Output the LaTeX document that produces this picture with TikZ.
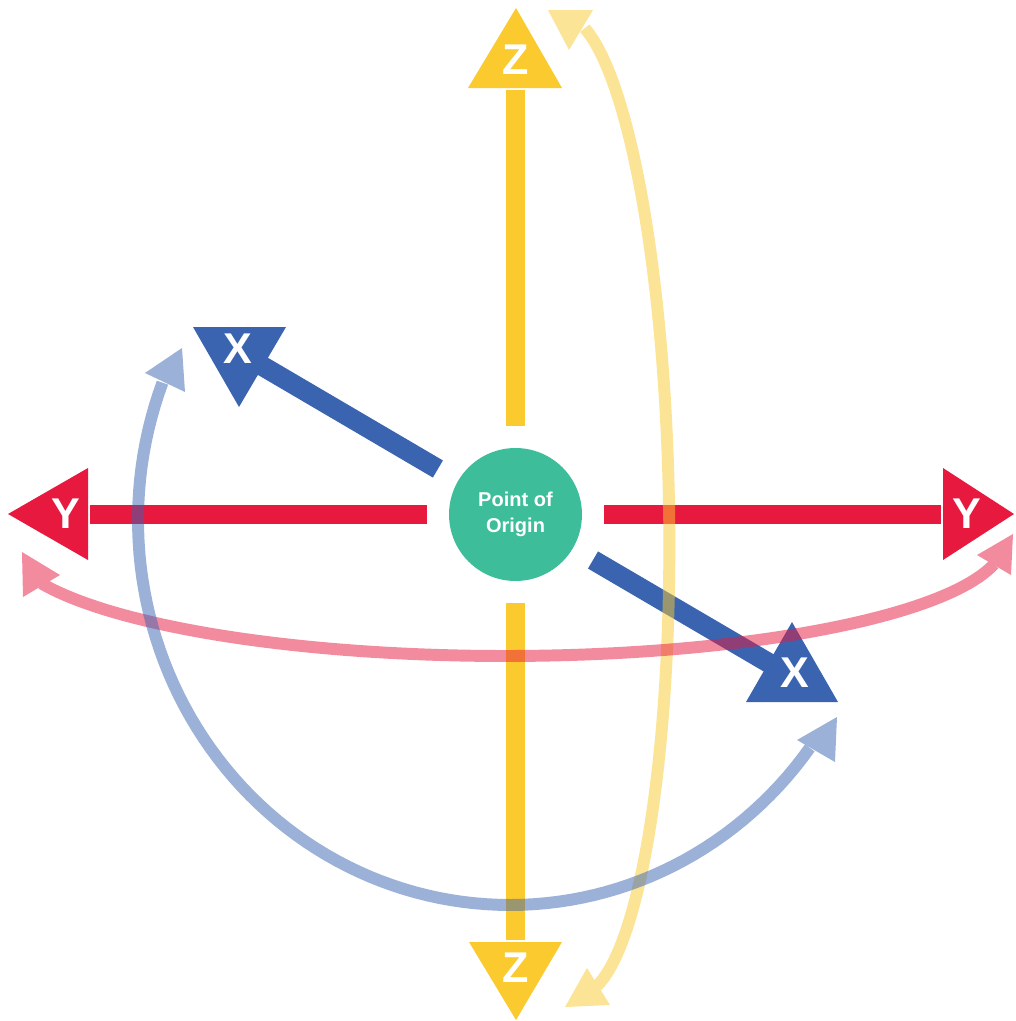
\documentclass[tikz,border=0pt]{standalone}
\usepackage{fontspec}
\setmainfont{Liberation Sans}
\definecolor{zyel}{HTML}{FBCA2F}
\definecolor{yred}{HTML}{E8193F}
\definecolor{xblue}{HTML}{3A64B0}
\definecolor{ogreen}{HTML}{3DBD99}
\begin{document}
\begin{tikzpicture}[x=0.02cm,y=-0.02cm,
  axisbar/.style={line width=11.3pt},
  arcline/.style={line width=6.8pt},
  fadegroup/.style={transparency group, opacity=0.5},
  lbl/.style={text=white, font=\bfseries\fontsize{24.5}{24.5}\selectfont, inner sep=0pt},
  origin/.style={circle, fill=ogreen, minimum size=2.66cm, inner sep=0pt, text=white,
    align=center, font=\bfseries\fontsize{11.4}{14.7}\selectfont}]
\useasboundingbox (0,0) rectangle (1015,1021);
\fill[white] (0,0) rectangle (1015,1021);

% ---- Z axis (yellow)
\coordinate (zt1) at (515.5,90);
\coordinate (zt2) at (515.5,426);
\coordinate (zb1) at (515.5,603);
\coordinate (zb2) at (515.5,940);
\draw[axisbar, zyel] (zt2) -- (zt1);
\draw[axisbar, zyel] (zb1) -- (zb2);
\fill[zyel] (516,8) -- (468,88) -- (562,88) -- cycle;
\fill[zyel] (469,942) -- (562,942) -- (516,1020) -- cycle;
\node[lbl] (ztop) at (515.5,60) {Z};
\node[lbl] (zbot) at (516,968) {Z};

% ---- Y axis (red)
\coordinate (yl1) at (90,514.5);
\coordinate (yl2) at (427,514.5);
\coordinate (yr1) at (604,514.5);
\coordinate (yr2) at (941,514.5);
\draw[axisbar, yred] (yl2) -- (yl1);
\draw[axisbar, yred] (yr1) -- (yr2);
\fill[yred] (8,514) -- (88,468) -- (88,560) -- cycle;
\fill[yred] (1014,514) -- (943,468) -- (943,560) -- cycle;
\node[lbl] (yleft) at (66,514) {Y};
\node[lbl] (yright) at (967,514) {Y};

% ---- X axis (blue)
\coordinate (xu1) at (437.9,469);
\coordinate (xu2) at (256.7,362.7);
\coordinate (xd1) at (593,560);
\coordinate (xd2) at (774,666);
\draw[axisbar, xblue] (xu1) -- (xu2);
\draw[axisbar, xblue] (xd1) -- (xd2);
\fill[xblue] (193,327) -- (286,327) -- (239,407) -- cycle;
\fill[xblue] (792,622) -- (746,702) -- (838,702) -- cycle;
\node[lbl] (xup) at (238,349) {X};
\node[lbl] (xdown) at (795,673) {X};

% ---- origin
\node[origin] (O) at (515.5,514.5) {Point of\\Origin};

% ---- rotation arcs (faded)
\begin{scope}[fadegroup]
  \draw[arcline, zyel] plot[domain=-76.5:79.3, samples=90]
    ({570+99*cos(\x)*0.99985+490*sin(\x)*0.01745},
     {505-99*cos(\x)*0.01745+490*sin(\x)*0.99985});
  \fill[zyel] (548,10) -- (593,10) -- (569,50) -- cycle;
  \fill[zyel] (565,1007) -- (610,1005) -- (587,968) -- cycle;
\end{scope}
\begin{scope}[fadegroup]
  \draw[arcline, yred] plot[domain=158:12, samples=90]
    ({505+500*cos(\x)}, {540+116*sin(\x)});
  \fill[yred] (22,552) -- (23,597) -- (60,575) -- cycle;
  \fill[yred] (977,555) -- (1011,575) -- (1013,534) -- cycle;
\end{scope}
\begin{scope}[fadegroup]
  \draw[arcline, xblue] plot[domain=200.9:36.3, samples=90]
    ({510+372*cos(\x)}, {520+385*sin(\x)});
  \fill[xblue] (182,348) -- (145,373) -- (185,392) -- cycle;
  \fill[xblue] (837,717) -- (797,740) -- (835,762) -- cycle;
\end{scope}
\end{tikzpicture}
\end{document}
